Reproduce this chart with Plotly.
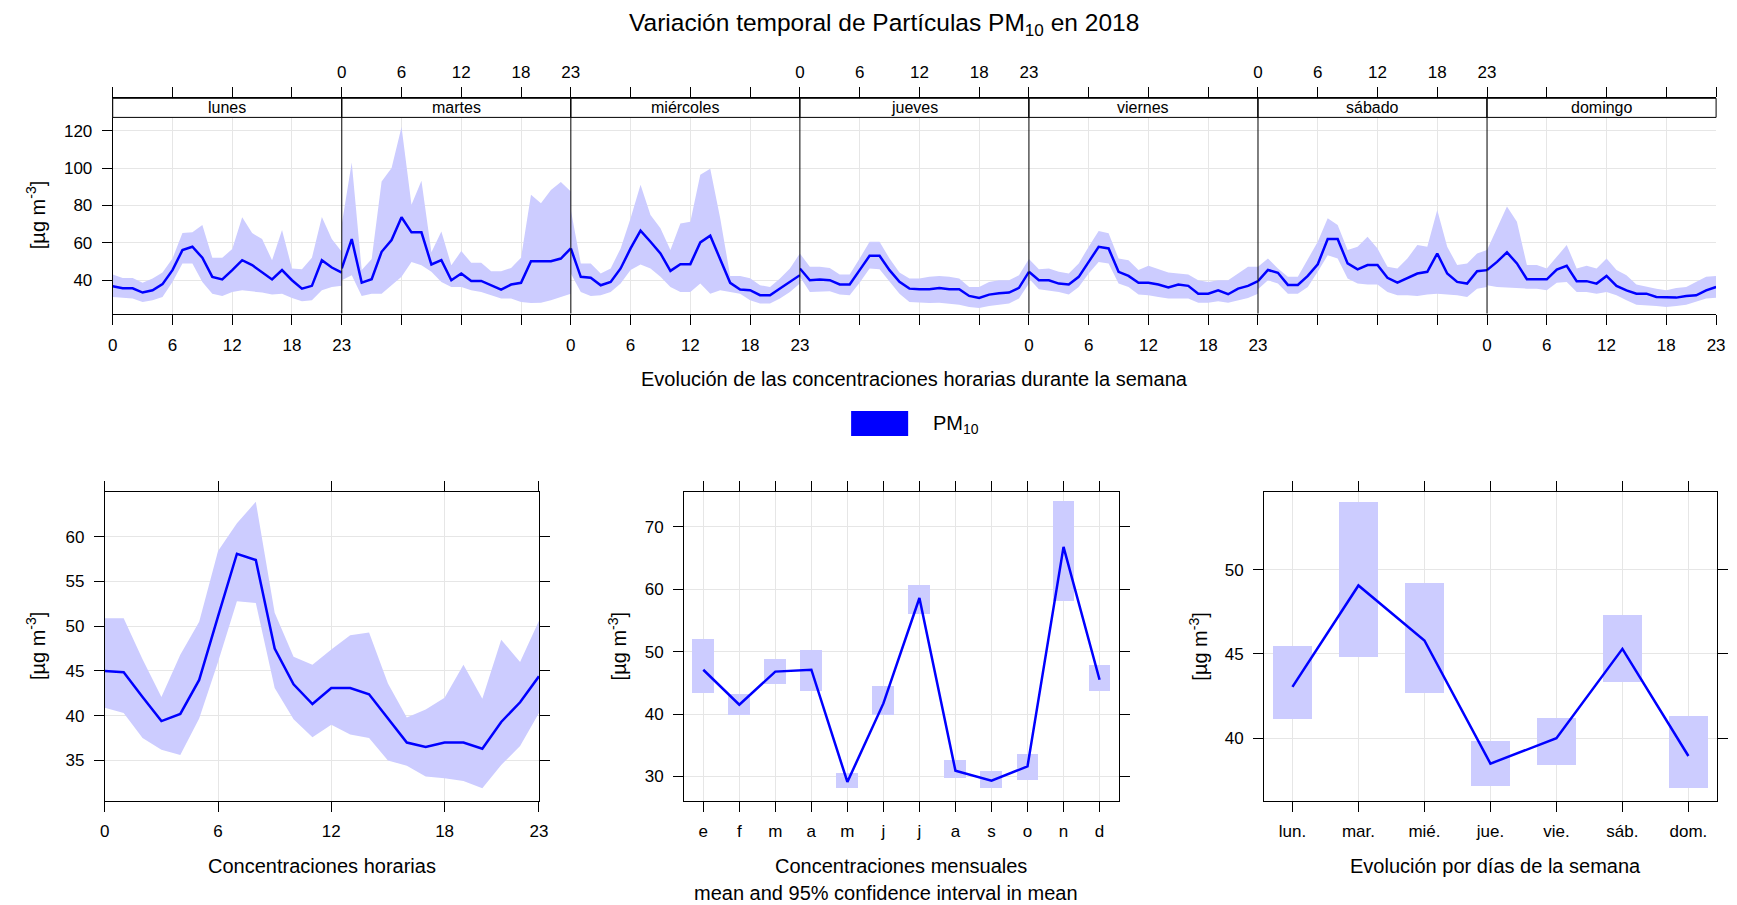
import plotly.graph_objects as go

W, H = 1737, 905

# ---------------------------------------------------------------- data
hours = list(range(24))
day_names = ["lunes", "martes", "miércoles", "jueves", "viernes", "sábado", "domingo"]

# hourly mean for each day of the week (Monday first)
week_mean = [
    [36.8, 35.7, 35.7, 33.4, 34.6, 37.9, 45.4, 56.1, 57.9, 52.0, 41.8, 40.4,
     45.4, 50.7, 48.1, 44.1, 40.4, 45.4, 40.0, 35.5, 37.0, 50.7, 46.8, 44.1],
    [46.3, 62.0, 38.7, 40.5, 55.2, 61.5, 73.7, 65.6, 65.6, 48.4, 50.7, 40.0,
     43.6, 39.6, 39.6, 37.3, 35.0, 37.7, 38.6, 50.2, 50.2, 50.2, 51.6, 57.0],
    [57.0, 41.8, 41.3, 37.3, 39.1, 46.3, 57.0, 66.5, 60.6, 54.3, 45.0, 48.6,
     48.6, 60.2, 63.8, 51.6, 38.6, 35.0, 34.7, 32.0, 32.0, 35.6, 39.1, 42.7],
    [46.3, 40.0, 40.4, 40.0, 37.7, 37.7, 45.4, 53.1, 53.1, 45.4, 39.1, 35.5,
     35.2, 35.2, 35.9, 35.2, 35.2, 31.6, 30.5, 32.3, 33.0, 33.4, 35.9, 44.5],
    [44.5, 40.0, 40.0, 38.2, 37.7, 41.8, 49.8, 57.9, 57.0, 44.5, 42.3, 38.6,
     38.6, 37.7, 36.1, 37.7, 37.0, 32.8, 32.8, 34.6, 32.5, 35.5, 37.0, 39.5],
    [39.5, 45.5, 44.0, 37.5, 37.5, 42.3, 48.5, 62.0, 62.0, 49.0, 45.8, 48.1,
     48.1, 41.3, 38.7, 41.3, 43.6, 44.5, 54.3, 43.6, 39.1, 38.2, 44.8, 45.4],
    [45.4, 49.8, 54.9, 49.0, 40.5, 40.5, 40.5, 45.7, 47.7, 39.5, 39.5, 38.2,
     42.3, 37.0, 34.6, 32.8, 32.8, 31.0, 30.7, 30.7, 31.6, 31.9, 34.6, 36.4],
]
week_lo = [
    [31.0, 30.5, 30.2, 28.4, 29.3, 31.0, 39.0, 49.0, 49.0, 39.0, 32.8, 31.6,
     33.7, 34.6, 34.1, 33.4, 32.3, 32.8, 30.5, 28.7, 29.3, 34.6, 36.4, 37.0],
    [40.0, 42.7, 31.6, 32.8, 32.8, 37.3, 41.8, 49.8, 48.0, 44.5, 39.1, 36.4,
     36.4, 34.6, 33.7, 31.9, 30.2, 30.2, 28.4, 27.8, 28.0, 29.3, 31.0, 32.8],
    [43.6, 33.7, 31.6, 31.9, 33.7, 38.2, 45.4, 48.4, 46.3, 41.8, 36.4, 33.7,
     33.7, 38.2, 32.8, 34.6, 33.7, 32.8, 29.3, 27.5, 27.5, 30.2, 33.7, 38.2],
    [41.8, 33.7, 34.1, 34.1, 32.3, 31.9, 38.7, 46.3, 45.9, 39.1, 32.8, 28.4,
     28.0, 27.8, 28.0, 27.5, 26.9, 25.7, 25.1, 26.2, 26.9, 27.5, 30.2, 38.2],
    [40.9, 35.2, 34.6, 33.7, 32.3, 36.4, 43.6, 49.8, 49.0, 38.2, 36.4, 32.3,
     31.9, 31.0, 30.2, 30.2, 30.2, 28.0, 28.0, 28.7, 28.0, 29.3, 30.5, 32.8],
    [35.2, 40.0, 38.2, 32.8, 32.8, 36.4, 44.5, 53.4, 51.6, 40.9, 38.2, 37.7,
     37.7, 33.7, 31.9, 31.9, 31.6, 32.3, 32.8, 32.3, 31.9, 31.0, 35.5, 36.4],
    [37.3, 36.4, 35.9, 35.9, 35.5, 35.5, 34.6, 38.7, 39.1, 33.7, 33.7, 32.8,
     33.7, 31.9, 29.3, 26.9, 26.6, 26.2, 25.7, 26.2, 26.9, 28.4, 30.2, 30.6],
]
week_hi = [
    [43.0, 41.2, 41.2, 38.7, 40.9, 44.1, 51.6, 65.2, 65.6, 69.5, 52.0, 52.0,
     56.7, 73.7, 65.2, 62.0, 50.7, 66.8, 46.3, 45.9, 52.0, 73.8, 62.0, 55.2],
    [70.0, 103.0, 45.4, 51.3, 92.8, 100.0, 122.0, 80.3, 93.2, 55.0, 66.0, 48.0,
     55.6, 49.3, 49.3, 44.8, 44.8, 46.6, 52.0, 85.7, 81.2, 88.3, 92.5, 87.4],
    [77.6, 49.0, 49.0, 43.6, 46.3, 57.0, 73.1, 91.0, 74.9, 67.8, 56.1, 70.4,
     71.3, 96.4, 99.6, 73.1, 42.3, 42.3, 41.0, 37.3, 36.4, 40.9, 46.3, 54.3],
    [54.3, 47.2, 47.2, 46.6, 43.0, 43.0, 51.6, 60.6, 60.6, 51.6, 44.1, 40.9,
     40.9, 41.8, 42.3, 41.8, 40.9, 36.4, 36.4, 39.1, 40.0, 40.0, 42.7, 51.3],
    [51.3, 45.9, 46.3, 44.5, 43.6, 49.0, 57.9, 66.3, 65.1, 51.6, 50.7, 45.4,
     47.7, 45.9, 44.1, 43.6, 43.0, 40.0, 39.1, 40.0, 40.0, 43.6, 47.2, 47.2],
    [47.2, 51.6, 46.3, 41.8, 41.8, 51.6, 60.6, 73.1, 69.5, 56.1, 57.9, 63.3,
     56.9, 47.2, 46.3, 51.6, 58.8, 57.9, 77.6, 57.9, 48.1, 49.0, 54.3, 56.1],
    [56.1, 67.8, 79.4, 71.3, 48.1, 48.1, 46.3, 52.5, 58.8, 46.3, 47.7, 46.3,
     51.6, 45.4, 42.7, 37.7, 36.4, 35.5, 34.6, 35.9, 36.4, 39.1, 41.8, 42.3],
]

# diurnal profile over all days
hour_mean = [45.0, 44.85, 42.1, 39.4, 40.2, 44.0, 51.1, 58.1, 57.4, 47.5, 43.5, 41.3,
             43.1, 43.1, 42.4, 39.7, 37.0, 36.5, 37.0, 37.0, 36.3, 39.3, 41.5, 44.4]
hour_lo = [40.9, 40.3, 37.5, 36.2, 35.6, 39.7, 46.0, 52.8, 52.6, 43.1, 39.6, 37.6,
           39.0, 37.9, 37.5, 35.0, 34.4, 33.2, 33.0, 32.7, 31.9, 34.5, 36.6, 40.3]
hour_hi = [50.9, 50.9, 46.3, 42.1, 46.8, 50.5, 58.4, 61.5, 63.9, 51.5, 46.6, 45.7,
           47.4, 49.0, 49.3, 43.6, 39.8, 40.7, 42.0, 45.7, 41.9, 48.5, 46.0, 50.6]

# monthly means
months = list(range(1, 13))
month_labels = ["e", "f", "m", "a", "m", "j", "j", "a", "s", "o", "n", "d"]
month_mean = [47.1, 41.5, 46.8, 47.1, 29.1, 41.7, 58.6, 30.9, 29.3, 31.6, 66.8, 45.5]
month_lo = [43.3, 39.9, 44.8, 43.7, 28.1, 39.9, 56.1, 29.8, 28.1, 29.5, 58.1, 43.7]
month_hi = [52.1, 43.2, 48.8, 50.3, 30.6, 44.5, 60.7, 32.6, 30.9, 33.6, 74.1, 47.9]

# day-of-week means
wdays = list(range(1, 8))
wday_labels = ["lun.", "mar.", "mié.", "jue.", "vie.", "sáb.", "dom."]
wday_mean = [43.05, 49.06, 45.8, 38.5, 40.0, 45.3, 38.95]
wday_lo = [41.17, 44.8, 42.7, 37.17, 38.41, 43.34, 37.03]
wday_hi = [45.47, 54.0, 49.2, 39.85, 41.23, 47.3, 41.3]

# ---------------------------------------------------------------- style
BLUE = "#0000FF"
BAND = "#CCCCFF"
GRID = "#E6E6E6"
FONT = "Liberation Sans, Arial, sans-serif"
TICK_FONT = dict(family=FONT, size=17, color="black")


def xp(px):
    return px / W


def yp(py):
    return 1 - py / H


def axis_style(**kw):
    base = dict(
        showline=True, linecolor="black", linewidth=1,
        ticks="outside", ticklen=10, tickwidth=1, tickcolor="black",
        showgrid=True, gridcolor=GRID, gridwidth=1, zeroline=False,
        tickfont=TICK_FONT, fixedrange=True,
    )
    base.update(kw)
    return base


fig = go.Figure()
layout = {}
shapes = []
annotations = []

# ---------------------------------------------------------------- weekly panel
TOP_L, TOP_R = 108.6, 1725.0
STRIP_TOP, PLOT_TOP, PLOT_BOT = 98.3, 117.4, 313.5
dw = (TOP_R - TOP_L) / 7
wk_range = [22.2, 137.3]

for d in range(7):
    ax_id = "x" if d == 0 else f"x{d + 1}"
    key = "xaxis" if d == 0 else f"xaxis{d + 1}"
    left = TOP_L + d * dw
    right = left + dw
    x_band = hours + hours[::-1]
    y_band = week_hi[d] + week_lo[d][::-1]
    fig.add_trace(go.Scatter(
        x=x_band, y=y_band, xaxis=ax_id, yaxis="y", mode="lines",
        fill="toself", fillcolor=BAND, line=dict(width=0, color=BAND),
        hoverinfo="skip", showlegend=False))
    fig.add_trace(go.Scatter(
        x=hours, y=week_mean[d], xaxis=ax_id, yaxis="y", mode="lines",
        line=dict(color=BLUE, width=2.5), showlegend=False))
    layout[key] = axis_style(
        domain=[xp(left), xp(right)], anchor="y", range=[0, 23],
        tickvals=[0, 6, 12, 18, 23], ticktext=["0", "6", "12", "18", "23"],
        side="bottom" if d % 2 == 0 else "top", mirror="ticks",
        ticklabelstandoff=6 if d % 2 == 0 else 3)
    # strip with the day name
    shapes.append(dict(type="rect", xref="paper", yref="paper",
                       x0=xp(left), x1=xp(right), y0=yp(PLOT_TOP), y1=yp(STRIP_TOP),
                       fillcolor="white", line=dict(color="black", width=1), layer="above"))
    annotations.append(dict(text=day_names[d], xref="paper", yref="paper",
                            x=xp((left + right) / 2), y=yp((STRIP_TOP + PLOT_TOP) / 2),
                            showarrow=False, font=dict(family=FONT, size=16, color="black"),
                            xanchor="center", yanchor="middle"))
    if d > 0:
        shapes.append(dict(type="line", xref="paper", yref="paper",
                           x0=xp(left), x1=xp(left), y0=yp(PLOT_BOT), y1=yp(STRIP_TOP),
                           line=dict(color="black", width=1), layer="above"))

layout["yaxis"] = axis_style(
    domain=[yp(PLOT_BOT), yp(STRIP_TOP)], anchor="x", range=wk_range,
    tickvals=[40, 60, 80, 100, 120], side="left", ticklabelstandoff=6)
layout["yaxis9"] = axis_style(
    domain=[yp(PLOT_BOT), yp(STRIP_TOP)], anchor="x7", overlaying="y", range=wk_range,
    tickvals=[40, 60, 80, 100, 120], side="right", showticklabels=False, showgrid=False)

# ---------------------------------------------------------------- bottom panels
B_TOP, B_BOT = 492.0, 800.7
panels = [
    ("x8", "y2", 100.6, 538.3),
    ("x9", "y3", 684.7, 1122.7),
    ("x10", "y4", 1269.3, 1725.7),
]

# diurnal
fig.add_trace(go.Scatter(
    x=hours + hours[::-1], y=hour_hi + hour_lo[::-1], xaxis="x8", yaxis="y2",
    mode="lines", fill="toself", fillcolor=BAND, line=dict(width=0, color=BAND),
    hoverinfo="skip", showlegend=False))
fig.add_trace(go.Scatter(x=hours, y=hour_mean, xaxis="x8", yaxis="y2", mode="lines",
                         line=dict(color=BLUE, width=2.5), showlegend=False))

# monthly
fig.add_trace(go.Bar(
    x=months, y=[h - l for h, l in zip(month_hi, month_lo)], base=month_lo,
    width=0.6, xaxis="x9", yaxis="y3", marker=dict(color=BAND, line=dict(width=0)),
    hoverinfo="skip", showlegend=False))
fig.add_trace(go.Scatter(x=months, y=month_mean, xaxis="x9", yaxis="y3", mode="lines",
                         line=dict(color=BLUE, width=2.5), showlegend=False))

# weekday
fig.add_trace(go.Bar(
    x=wdays, y=[h - l for h, l in zip(wday_hi, wday_lo)], base=wday_lo,
    width=0.6, xaxis="x10", yaxis="y4", marker=dict(color=BAND, line=dict(width=0)),
    hoverinfo="skip", showlegend=False))
fig.add_trace(go.Scatter(x=wdays, y=wday_mean, xaxis="x10", yaxis="y4", mode="lines",
                         line=dict(color=BLUE, width=2.5), showlegend=False))

x_specs = [
    dict(range=[0, 23], tickvals=[0, 6, 12, 18, 23], ticktext=["0", "6", "12", "18", "23"]),
    dict(range=[0.47, 12.53], tickvals=months, ticktext=month_labels),
    dict(range=[0.57, 7.43], tickvals=wdays, ticktext=wday_labels),
]
y_specs = [
    dict(range=[30.5, 65.0], tickvals=[35, 40, 45, 50, 55, 60]),
    dict(range=[26.1, 75.6], tickvals=[30, 40, 50, 60, 70]),
    dict(range=[36.3, 54.6], tickvals=[40, 45, 50]),
]
for (xa, ya, left, right), xs, ys in zip(panels, x_specs, y_specs):
    layout["xaxis" + xa[1:]] = axis_style(
        domain=[xp(left), xp(right)], anchor=ya, side="bottom", mirror="ticks",
        ticklabelstandoff=5, **xs)
    layout["yaxis" + ya[1:]] = axis_style(
        domain=[yp(B_BOT), yp(B_TOP)], anchor=xa, side="left", mirror="ticks",
        ticklabelstandoff=6, **ys)

# ---------------------------------------------------------------- text
TITLE_FONT = dict(family=FONT, size=20, color="black")
UNIT = "[µg m<sup>-3</sup>]"

annotations += [
    dict(text="Variación temporal de Partículas PM<sub>10</sub> en 2018",
         x=xp(886), y=yp(24), font=dict(family=FONT, size=24.5, color="black")),
    dict(text="Evolución de las concentraciones horarias durante la semana",
         x=xp((TOP_L + TOP_R) / 2), y=yp(379), font=TITLE_FONT),
    dict(text="PM<sub>10</sub>", x=xp(934), y=yp(424), xanchor="left", font=TITLE_FONT),
    dict(text=UNIT, x=xp(31), y=yp((PLOT_TOP + PLOT_BOT) / 2), textangle=-90, font=TITLE_FONT),
    dict(text=UNIT, x=xp(31), y=yp((B_TOP + B_BOT) / 2), textangle=-90, font=TITLE_FONT),
    dict(text=UNIT, x=xp(617), y=yp((B_TOP + B_BOT) / 2), textangle=-90, font=TITLE_FONT),
    dict(text=UNIT, x=xp(1203), y=yp((B_TOP + B_BOT) / 2), textangle=-90, font=TITLE_FONT),
    dict(text="Concentraciones horarias", x=xp((100.6 + 538.3) / 2), y=yp(866), font=TITLE_FONT),
    dict(text="Concentraciones mensuales", x=xp(903), y=yp(866), font=TITLE_FONT),
    dict(text="mean and 95% confidence interval in mean", x=xp(888),
         y=yp(893), font=TITLE_FONT),
    dict(text="Evolución por días de la semana", x=xp(1503), y=yp(866),
         font=TITLE_FONT),
]
for a in annotations:
    a.setdefault("xref", "paper")
    a.setdefault("yref", "paper")
    a.setdefault("showarrow", False)
    a.setdefault("xanchor", "center")
    a.setdefault("yanchor", "middle")

# legend key
shapes.append(dict(type="rect", xref="paper", yref="paper",
                   x0=xp(853), x1=xp(910.5), y0=yp(436), y1=yp(411),
                   fillcolor=BLUE, line=dict(width=0)))

fig.update_layout(
    width=W, height=H, autosize=False,
    margin=dict(l=0, r=0, t=0, b=0),
    paper_bgcolor="white", plot_bgcolor="white",
    showlegend=False, bargap=0,
    font=dict(family=FONT, color="black"),
    shapes=shapes, annotations=annotations,
    **layout,
)

fig.write_html("out.html")
